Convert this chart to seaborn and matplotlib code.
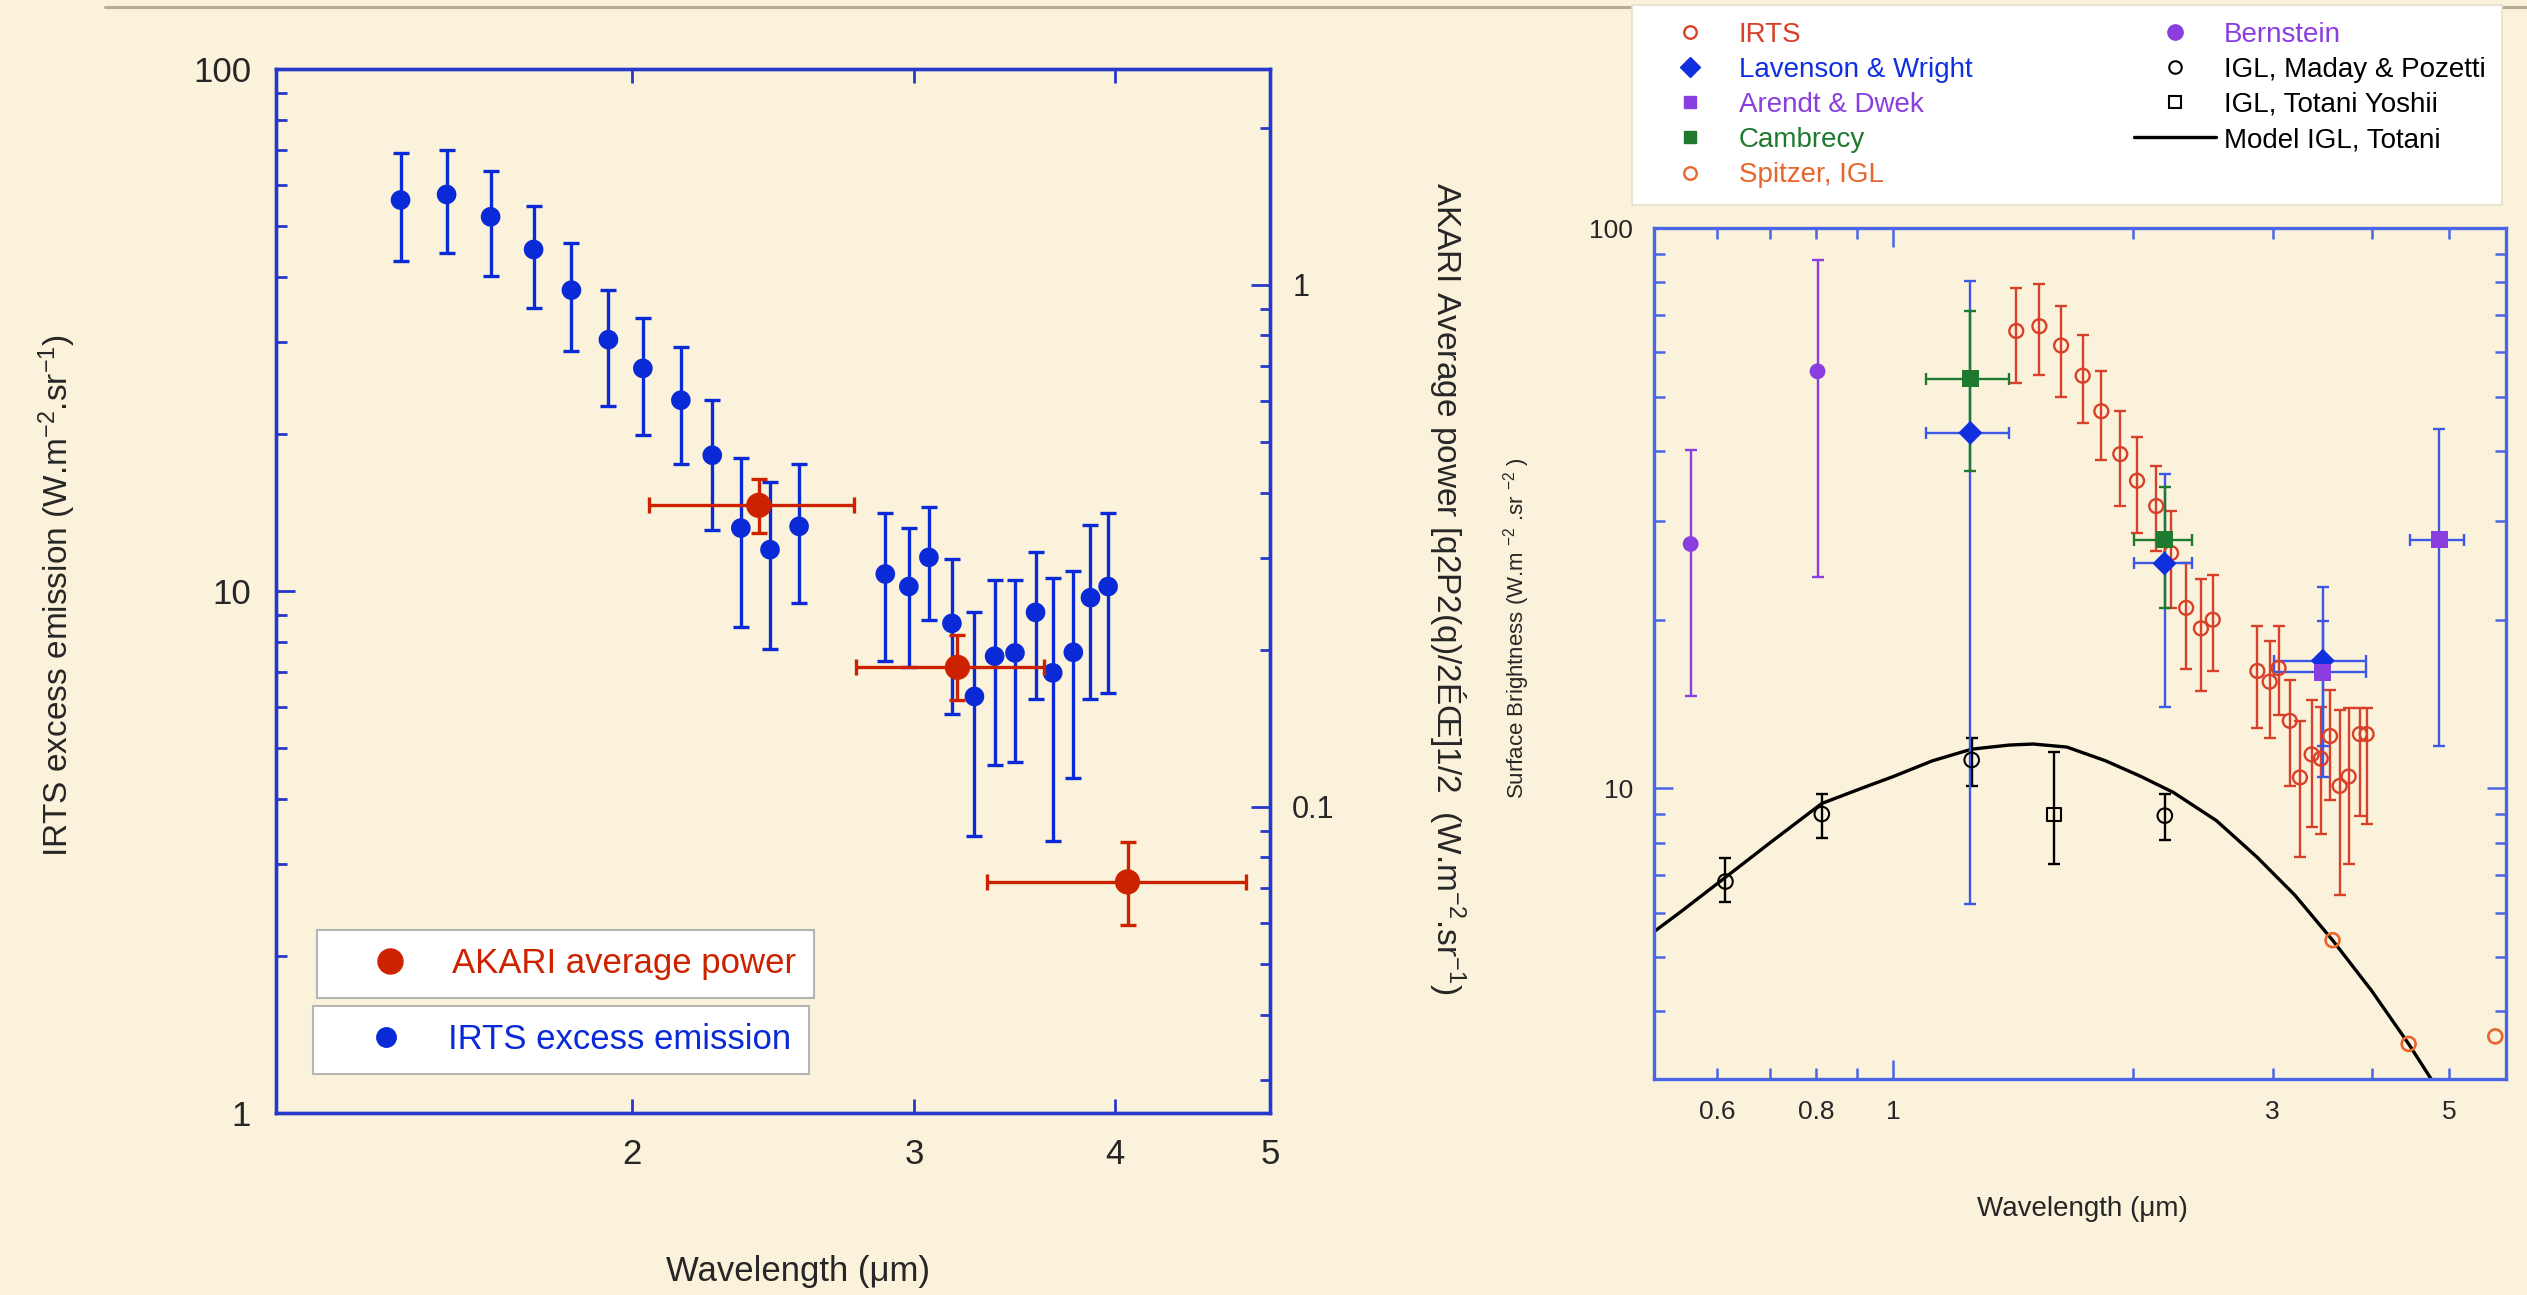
import numpy as np
import pandas as pd
import matplotlib
matplotlib.use("Agg")
import matplotlib.pyplot as plt
import seaborn as sns
from matplotlib.lines import Line2D
from matplotlib.ticker import FixedLocator, FixedFormatter, NullFormatter, NullLocator, LogLocator

# ---------------- left panel: IRTS excess emission & AKARI average power ----------------
irts_wl = [1.435, 1.533, 1.633, 1.737, 1.834, 1.934, 2.032, 2.146, 2.245, 2.339, 2.439, 2.543,
           2.878, 2.977, 3.064, 3.167, 3.271, 3.367, 3.467, 3.571, 3.660, 3.770, 3.864, 3.963]
irts_val = [56.1, 57.5, 52.1, 45.1, 37.7, 30.3, 26.7, 23.2, 18.2, 13.2, 12.0, 13.3,
            10.78, 10.2, 11.6, 8.67, 6.28, 7.50, 7.61, 9.10, 6.97, 7.63, 9.71, 10.2]
irts_lo = [42.9, 44.5, 40.2, 34.9, 28.8, 22.6, 19.9, 17.5, 13.1, 8.55, 7.73, 9.50,
           7.34, 7.14, 8.79, 5.82, 3.40, 4.64, 4.70, 6.21, 3.32, 4.38, 6.21, 6.38]
irts_hi = [68.9, 69.9, 63.8, 54.7, 46.4, 37.7, 33.3, 29.3, 23.2, 18.0, 16.2, 17.5,
           14.1, 13.2, 14.5, 11.5, 9.10, 10.5, 10.5, 11.9, 10.6, 10.9, 13.4, 14.1]

akari_wl = [2.400, 3.192, 4.075]
akari_wl_lo = [2.049, 2.760, 3.330]
akari_wl_hi = [2.753, 3.616, 4.830]
akari_pow = [0.378, 0.185, 0.0718]
akari_lo = [0.334, 0.160, 0.0593]
akari_hi = [0.425, 0.213, 0.0855]

# ---------------- right panel: surface brightness compilation ----------------
sb_irts_wl = [1.428, 1.527, 1.626, 1.731, 1.827, 1.930, 2.026, 2.142, 2.236, 2.336, 2.438, 2.523,
              2.871, 2.975, 3.053, 3.154, 3.248, 3.360, 3.450, 3.544, 3.644, 3.740, 3.864, 3.940]
sb_irts_val = [65.5, 66.8, 61.7, 54.5, 47.1, 39.5, 35.4, 31.9, 26.3, 21.0, 19.3, 20.0,
               16.2, 15.5, 16.4, 13.2, 10.46, 11.5, 11.3, 12.4, 10.1, 10.5, 12.5, 12.5]
sb_irts_lo = [52.9, 54.6, 49.9, 44.8, 38.5, 31.9, 28.6, 26.5, 21.0, 16.3, 14.9, 16.2,
              12.8, 12.3, 13.5, 10.1, 7.55, 8.54, 8.30, 9.53, 6.45, 7.33, 8.94, 8.64]
sb_irts_hi = [78.1, 79.3, 72.6, 64.3, 55.5, 47.1, 42.3, 37.6, 31.2, 25.2, 23.6, 24.0,
              19.5, 18.3, 19.5, 15.6, 13.2, 14.4, 14.0, 15.0, 13.8, 13.9, 13.9, 13.9]

lw_wl = [1.25, 2.194, 3.47]
lw_wl_lo = [1.098, 2.01, 3.01]
lw_wl_hi = [1.398, 2.375, 3.93]
lw_val = [43.1, 25.2, 16.9]
lw_lo = [6.22, 13.95, 10.5]
lw_hi = [80.3, 36.4, 22.9]

cam_wl = [1.25, 2.194]
cam_wl_lo = [1.098, 2.01]
cam_wl_hi = [1.398, 2.375]
cam_val = [53.8, 27.8]
cam_lo = [36.8, 21.0]
cam_hi = [71.1, 34.5]

ad_wl = [3.47, 4.86]
ad_wl_lo = [3.01, 4.47]
ad_wl_hi = [3.93, 5.22]
ad_val = [16.1, 27.8]
ad_lo = [11.9, 11.9]
ad_hi = [19.9, 43.8]

bern_wl = [0.556, 0.803]
bern_val = [27.3, 55.5]
bern_lo = [14.6, 23.8]
bern_hi = [40.2, 87.6]

mp_wl = [0.615, 0.813, 1.255, 2.196]
mp_val = [6.82, 9.00, 11.24, 8.94]
mp_lo = [6.28, 8.16, 10.1, 8.10]
mp_hi = [7.51, 9.77, 12.3, 9.77]

ty_wl = [1.593]
ty_val = [8.97]
ty_lo = [7.33]
ty_hi = [11.6]

spitzer_wl = [3.57, 4.45, 5.72]
spitzer_val = [5.36, 3.50, 3.61]

model_wl = [0.50, 0.54, 0.615, 0.70, 0.813, 0.92, 1.0, 1.12, 1.255, 1.40, 1.50, 1.654,
            1.85, 2.05, 2.25, 2.55, 2.871, 3.2, 3.57, 4.0, 4.45, 4.75, 4.95]
model_val = [5.55, 6.02, 6.94, 8.0, 9.40, 10.05, 10.5, 11.2, 11.75, 11.95, 12.0, 11.85,
             11.2, 10.5, 9.84, 8.76, 7.53, 6.45, 5.36, 4.35, 3.50, 3.03, 2.72]

# ---------------- styling ----------------
BG = "#FAF2DA"
SPINE_L = "#2538cc"
SPINE_R = "#4a66e6"
BLUE = "#0a2ad8"
RED = "#cc2200"
C_IRTS = "#d8402a"
C_SPITZER = "#e8662e"
C_LW = "#1030e0"
C_LW_BAR = "#3d57e6"
C_AD = "#8a3ee0"
C_CAM = "#1f7a30"
C_BERN = "#8a3ee0"

sns.set_theme(style="ticks")
plt.rcParams["font.family"] = ["Liberation Sans", "DejaVu Sans"]
plt.rcParams["mathtext.fontset"] = "custom"
plt.rcParams["mathtext.rm"] = "Liberation Sans"
plt.rcParams["mathtext.it"] = "Liberation Sans:italic"
plt.rcParams["mathtext.bf"] = "Liberation Sans:bold"
plt.rcParams["axes.unicode_minus"] = True

W, H = 2527, 1295
fig = plt.figure(figsize=(W / 100, H / 100), dpi=100, facecolor=BG)


def fx(px):
    return px / W


def fy(py):
    return 1 - py / H


# thin rule along the top of the slide
fig.add_artist(Line2D([fx(105), 1.0], [fy(7), fy(7)], transform=fig.transFigure,
                      color="#b5ad95", lw=2.2))

# ======== left panel ========
axL = fig.add_axes([fx(276), fy(1113), fx(1270 - 276), (1113 - 69) / H])
axL.set_facecolor(BG)
axL.set_xscale("log")
axL.set_yscale("log")
axL.set_xlim(1.2, 5.0)
axL.set_ylim(1, 100)

axL.errorbar(irts_wl, irts_val,
             yerr=[np.subtract(irts_val, irts_lo), np.subtract(irts_hi, irts_val)],
             fmt="none", ecolor=BLUE, elinewidth=2.4, capsize=5.5, capthick=2.4, zorder=2)
sns.scatterplot(x=irts_wl, y=irts_val, ax=axL, color=BLUE, edgecolor="none",
                s=200, zorder=3, legend=False)

axL.xaxis.set_major_locator(FixedLocator([2, 3, 4, 5]))
axL.xaxis.set_major_formatter(FixedFormatter(["2", "3", "4", "5"]))
axL.xaxis.set_minor_locator(NullLocator())
axL.yaxis.set_major_locator(FixedLocator([1, 10, 100]))
axL.yaxis.set_major_formatter(FixedFormatter(["1", "10", "100"]))
axL.yaxis.set_minor_locator(LogLocator(base=10, subs=np.arange(2, 10)))
axL.yaxis.set_minor_formatter(NullFormatter())
axL.tick_params(axis="x", which="major", direction="in", top=True, bottom=True,
                length=10, width=2, color=SPINE_L, labelsize=25, pad=18)
axL.tick_params(axis="y", which="major", direction="in", left=True, right=False,
                length=14, width=2, color=SPINE_L, labelsize=25, pad=18)
axL.tick_params(axis="y", which="minor", direction="in", left=True, right=False,
                length=8, width=2, color=SPINE_L)
for sp in axL.spines.values():
    sp.set_color(SPINE_L)
    sp.set_linewidth(2.4)

# AKARI scale on the right-hand axis
axA = axL.twinx()
axA.set_yscale("log")
axA.set_ylim(1 / 38.6, 100 / 38.6)
axA.errorbar(akari_wl, akari_pow,
             xerr=[np.subtract(akari_wl, akari_wl_lo), np.subtract(akari_wl_hi, akari_wl)],
             yerr=[np.subtract(akari_pow, akari_lo), np.subtract(akari_hi, akari_pow)],
             fmt="none", ecolor=RED, elinewidth=2.4, capsize=5.5, capthick=2.4, zorder=2)
sns.scatterplot(x=akari_wl, y=akari_pow, ax=axA, color=RED, edgecolor="none",
                s=330, zorder=3, legend=False)
axA.set_xlim(1.2, 5.0)
axA.yaxis.set_major_locator(FixedLocator([0.1, 1]))
axA.yaxis.set_major_formatter(FixedFormatter(["0.1", "1"]))
axA.yaxis.set_minor_locator(LogLocator(base=10, subs=np.arange(2, 10)))
axA.yaxis.set_minor_formatter(NullFormatter())
axA.tick_params(axis="y", which="major", direction="in", length=14, width=2,
                color=SPINE_L, labelsize=22, pad=16)
axA.tick_params(axis="y", which="minor", direction="in", length=7, width=2, color=SPINE_L)
for sp in axA.spines.values():
    sp.set_color(SPINE_L)
    sp.set_linewidth(2.4)

fig.text(fx(798), fy(1272), "Wavelength (\u03bcm)", fontsize=25, ha="center", va="center")
fig.text(fx(57), fy(596), "IRTS excess emission (W.m$^{-2}$.sr$^{-1}$)", fontsize=24,
         rotation=90, ha="center", va="center")
fig.text(fx(1447), fy(588),
         "AKARI Average power [q2P2(q)/2\u00c9\u0152]1/2  (W.m$^{-2}$.sr$^{-1}$)",
         fontsize=24, rotation=270, ha="center", va="center")

# two boxed legend entries
leg_kw = dict(loc="upper left", bbox_transform=fig.transFigure, borderaxespad=0,
              frameon=True, fancybox=False, framealpha=1, edgecolor="#b4b4b4",
              facecolor="white", fontsize=25, handlelength=3.2, handletextpad=0.2,
              borderpad=0.5)
legA = fig.legend(handles=[Line2D([], [], ls="", marker="o", ms=18, color=RED)],
                  labels=["AKARI average power"], labelcolor=[RED],
                  bbox_to_anchor=(fx(317), fy(930)), **leg_kw)
legA.get_frame().set_linewidth(1.5)
legB = fig.legend(handles=[Line2D([], [], ls="", marker="o", ms=14, color=BLUE)],
                  labels=["IRTS excess emission"], labelcolor=[BLUE],
                  bbox_to_anchor=(fx(313), fy(1006)), **leg_kw)
legB.get_frame().set_linewidth(1.5)

# ======== right panel ========
axR = fig.add_axes([fx(1654), fy(1079), fx(2506 - 1654), (1079 - 228) / H])
axR.set_facecolor(BG)
axR.set_xscale("log")
axR.set_yscale("log")
axR.set_xlim(0.5, 5.9)
axR.set_ylim(3.03, 100)

sns.lineplot(x=model_wl, y=model_val, ax=axR, color="black", linewidth=2.4,
             sort=False, estimator=None, zorder=2)

bar_kw = dict(fmt="none", elinewidth=1.7, capsize=4, capthick=1.7, zorder=3)
axR.errorbar(bern_wl, bern_val,
             yerr=[np.subtract(bern_val, bern_lo), np.subtract(bern_hi, bern_val)],
             ecolor=C_BERN, **bar_kw)
axR.errorbar(mp_wl, mp_val,
             yerr=[np.subtract(mp_val, mp_lo), np.subtract(mp_hi, mp_val)],
             ecolor="black", **bar_kw)
axR.errorbar(ty_wl, ty_val,
             yerr=[np.subtract(ty_val, ty_lo), np.subtract(ty_hi, ty_val)],
             ecolor="black", **bar_kw)
axR.errorbar(sb_irts_wl, sb_irts_val,
             yerr=[np.subtract(sb_irts_val, sb_irts_lo), np.subtract(sb_irts_hi, sb_irts_val)],
             ecolor=C_IRTS, **bar_kw)
axR.errorbar(lw_wl, lw_val,
             xerr=[np.subtract(lw_wl, lw_wl_lo), np.subtract(lw_wl_hi, lw_wl)],
             yerr=[np.subtract(lw_val, lw_lo), np.subtract(lw_hi, lw_val)],
             ecolor=C_LW_BAR, **bar_kw)
axR.errorbar(cam_wl, cam_val,
             xerr=[np.subtract(cam_wl, cam_wl_lo), np.subtract(cam_wl_hi, cam_wl)],
             yerr=[np.subtract(cam_val, cam_lo), np.subtract(cam_hi, cam_val)],
             ecolor=C_CAM, **bar_kw)
axR.errorbar(ad_wl, ad_val,
             xerr=[np.subtract(ad_wl, ad_wl_lo), np.subtract(ad_wl_hi, ad_wl)],
             yerr=[np.subtract(ad_val, ad_lo), np.subtract(ad_hi, ad_val)],
             ecolor=C_LW_BAR, **bar_kw)

sns.scatterplot(x=sb_irts_wl, y=sb_irts_val, ax=axR, marker="o", s=100, color=C_IRTS,
                facecolor="none", edgecolor=C_IRTS, linewidth=1.7, zorder=4, legend=False)
sns.scatterplot(x=spitzer_wl, y=spitzer_val, ax=axR, marker="o", s=100, color=C_SPITZER,
                facecolor="none", edgecolor=C_SPITZER, linewidth=1.9, zorder=4, legend=False)
sns.scatterplot(x=mp_wl, y=mp_val, ax=axR, marker="o", s=110, color="black",
                facecolor="none", edgecolor="black", linewidth=1.5, zorder=4, legend=False)
sns.scatterplot(x=ty_wl, y=ty_val, ax=axR, marker="s", s=90, color="black",
                facecolor="none", edgecolor="black", linewidth=1.5, zorder=4, legend=False)
sns.scatterplot(x=bern_wl, y=bern_val, ax=axR, marker="o", s=130, color=C_BERN,
                edgecolor="none", zorder=5, legend=False)
sns.scatterplot(x=cam_wl, y=cam_val, ax=axR, marker="s", s=150, color=C_CAM,
                edgecolor="none", zorder=5, legend=False)
sns.scatterplot(x=lw_wl, y=lw_val, ax=axR, marker="D", s=150, color=C_LW,
                edgecolor="none", zorder=5, legend=False)
sns.scatterplot(x=ad_wl, y=ad_val, ax=axR, marker="s", s=150, color=C_AD,
                edgecolor="none", zorder=5, legend=False)

axR.xaxis.set_major_locator(FixedLocator([1]))
axR.xaxis.set_major_formatter(FixedFormatter(["1"]))
axR.xaxis.set_minor_locator(FixedLocator([0.6, 0.7, 0.8, 0.9, 2, 3, 4, 5]))
axR.xaxis.set_minor_formatter(FixedFormatter(["0.6", "", "0.8", "", "", "3", "", "5"]))
axR.yaxis.set_major_locator(FixedLocator([10, 100]))
axR.yaxis.set_major_formatter(FixedFormatter(["10", "100"]))
axR.yaxis.set_minor_locator(LogLocator(base=10, subs=np.arange(2, 10)))
axR.yaxis.set_minor_formatter(NullFormatter())
axR.tick_params(which="both", direction="in", top=True, right=True, left=True, bottom=True,
                color=SPINE_R, width=1.8, labelsize=19, pad=15)
axR.tick_params(which="major", length=14)
axR.tick_params(which="minor", length=8)
for sp in axR.spines.values():
    sp.set_color(SPINE_R)
    sp.set_linewidth(2.4)

fig.text(fx(2082), fy(1209), "Wavelength (\u03bcm)", fontsize=20, ha="center", va="center")
fig.text(fx(1517), fy(628), "Surface Brightness (W.m $^{-2}$ .sr $^{-2}$ )", fontsize=16,
         rotation=90, ha="center", va="center")

handles = [
    Line2D([], [], ls="", marker="o", ms=9, mfc="none", mec=C_IRTS, mew=1.7),
    Line2D([], [], ls="", marker="D", ms=10, color=C_LW),
    Line2D([], [], ls="", marker="s", ms=9, color=C_AD),
    Line2D([], [], ls="", marker="s", ms=9, color=C_CAM),
    Line2D([], [], ls="", marker="o", ms=9, mfc="none", mec=C_SPITZER, mew=1.7),
    Line2D([], [], ls="", marker="o", ms=11, color=C_BERN),
    Line2D([], [], ls="", marker="o", ms=9, mfc="none", mec="black", mew=1.5),
    Line2D([], [], ls="", marker="s", ms=9, mfc="none", mec="black", mew=1.5),
    Line2D([], [], color="black", lw=2.4),
]
labels = ["IRTS", "Lavenson & Wright", "Arendt & Dwek", "Cambrecy", "Spitzer, IGL",
          "Bernstein", "IGL, Maday & Pozetti", "IGL, Totani Yoshii", "Model IGL, Totani"]
label_colors = [C_IRTS, C_LW, C_AD, C_CAM, C_SPITZER, C_BERN, "black", "black", "black"]
legR = fig.legend(handles=handles, labels=labels, labelcolor=label_colors, ncol=2,
                  loc="upper left", bbox_to_anchor=(fx(1632), fy(5)),
                  bbox_transform=fig.transFigure, borderaxespad=0, frameon=True,
                  fancybox=False, framealpha=1, edgecolor="#e6e0cc", facecolor="white",
                  fontsize=20, handlelength=2.95, handletextpad=0.3, borderpad=0.6,
                  labelspacing=0.33, columnspacing=5.8)
legR.get_frame().set_linewidth(1.2)

fig.savefig("out.png", dpi=100, facecolor=BG)
